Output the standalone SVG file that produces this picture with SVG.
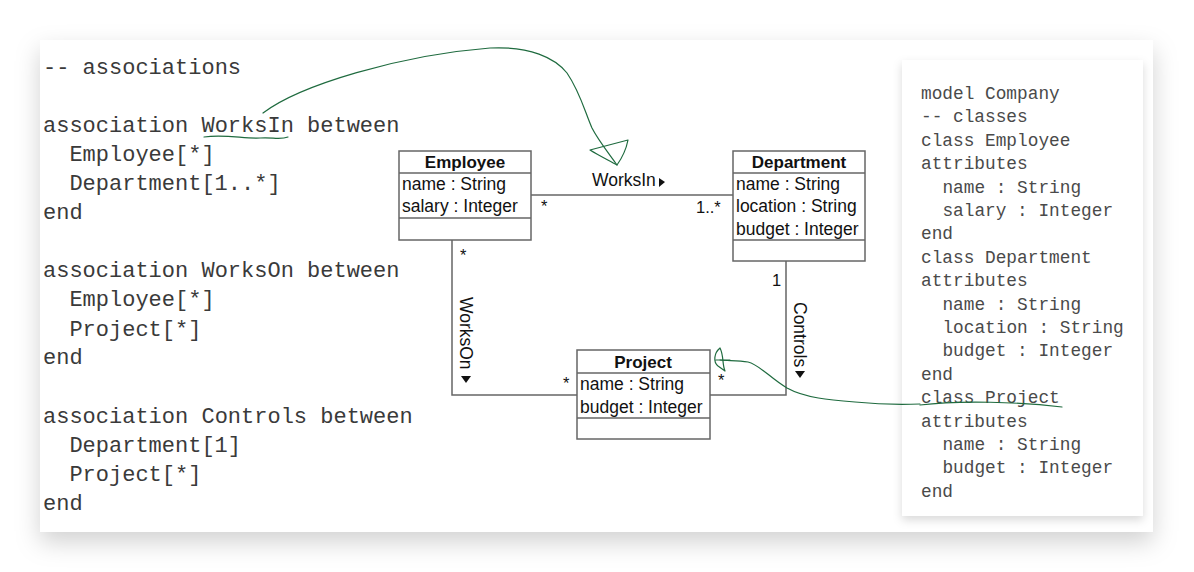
<svg xmlns="http://www.w3.org/2000/svg" width="1194" height="572" viewBox="0 0 1194 572">
<defs>
<filter id="sh" x="-10%" y="-10%" width="120%" height="130%">
<feDropShadow dx="0" dy="10" stdDeviation="12" flood-color="#000" flood-opacity="0.18"/>
</filter>
<filter id="sh2" x="-20%" y="-10%" width="140%" height="120%">
<feDropShadow dx="0" dy="4" stdDeviation="5" flood-color="#000" flood-opacity="0.15"/>
</filter>
<style>
.code{font-family:"Liberation Mono","Courier New",monospace;font-size:22px;fill:#3a3a3a}
.code2{font-family:"Liberation Mono","Courier New",monospace;font-size:17.8px;fill:#4a4a4a}
.box{fill:#fff;stroke:#666;stroke-width:1.5}
.sep{stroke:#666;stroke-width:1.5}
.title{font-family:"Liberation Sans",Arial,sans-serif;font-size:17px;font-weight:bold;fill:#111;text-anchor:middle}
.attr{font-family:"Liberation Sans",Arial,sans-serif;font-size:17.5px;fill:#111}
.lbl{font-family:"Liberation Sans",Arial,sans-serif;font-size:17.5px;fill:#111}
.mult{font-family:"Liberation Sans",Arial,sans-serif;font-size:16.5px;fill:#111}
.edge{fill:none;stroke:#666;stroke-width:1.5}
.pen{fill:none;stroke:#1f6b3f;stroke-width:1.2;stroke-linecap:round;stroke-linejoin:round}
</style>
</defs>
<rect width="1194" height="572" fill="#fff"/>
<rect x="40" y="40" width="1113" height="492" fill="#fff" filter="url(#sh)"/>
<rect x="902" y="60" width="241" height="456" fill="#fff" filter="url(#sh2)"/>

<g id="left-code" class="code">
<text x="43" y="74">-- associations</text>
<text x="43" y="132">association WorksIn between</text>
<text x="69.4" y="161">Employee[*]</text>
<text x="69.4" y="190">Department[1..*]</text>
<text x="43" y="219">end</text>
<text x="43" y="277">association WorksOn between</text>
<text x="69.4" y="306">Employee[*]</text>
<text x="69.4" y="336">Project[*]</text>
<text x="43" y="364">end</text>
<text x="43" y="423">association Controls between</text>
<text x="69.4" y="452">Department[1]</text>
<text x="69.4" y="481">Project[*]</text>
<text x="43" y="510">end</text>
</g>

<g id="right-code" class="code2">
<text x="921" y="99">model Company</text>
<text x="921" y="122.4">-- classes</text>
<text x="921" y="145.8">class Employee</text>
<text x="921" y="169.2">attributes</text>
<text x="942.4" y="192.6">name : String</text>
<text x="942.4" y="216">salary : Integer</text>
<text x="921" y="239.4">end</text>
<text x="921" y="262.8">class Department</text>
<text x="921" y="286.2">attributes</text>
<text x="942.4" y="309.6">name : String</text>
<text x="942.4" y="333">location : String</text>
<text x="942.4" y="356.4">budget : Integer</text>
<text x="921" y="379.8">end</text>
<text x="921" y="403.2">class Project</text>
<text x="921" y="426.6">attributes</text>
<text x="942.4" y="450">name : String</text>
<text x="942.4" y="473.4">budget : Integer</text>
<text x="921" y="496.8">end</text>
</g>

<g id="connectors">
<path class="edge" d="M531 195 H733"/>
<path class="edge" d="M452 240 V395 H577"/>
<path class="edge" d="M786 261 V395 H710"/>
<text class="lbl" x="592" y="186">WorksIn</text>
<polygon points="659,178 665,182 659,187" fill="#111"/>
<text class="mult" x="541" y="212">*</text>
<text class="mult" x="696" y="213">1..*</text>
<g transform="translate(460,297) rotate(90)">
<text class="lbl" x="0" y="0">WorksOn</text>
</g>
<polygon points="461,376 471,376 466,383" fill="#111"/>
<text class="mult" x="460" y="261">*</text>
<text class="mult" x="563" y="389">*</text>
<g transform="translate(794,302) rotate(90)">
<text class="lbl" x="0" y="0">Controls</text>
</g>
<polygon points="795,371 805,371 800,378" fill="#111"/>
<text class="mult" x="772" y="286">1</text>
<text class="mult" x="718" y="386">*</text>
</g>

<g id="Employee">
<rect class="box" x="399" y="151" width="132" height="89"/>
<line class="sep" x1="399" y1="173" x2="531" y2="173"/>
<line class="sep" x1="399" y1="218" x2="531" y2="218"/>
<text class="title" x="465" y="168">Employee</text>
<text class="attr" x="402" y="190">name : String</text>
<text class="attr" x="402" y="212">salary : Integer</text>
</g>

<g id="Department">
<rect class="box" x="733" y="151" width="132" height="110"/>
<line class="sep" x1="733" y1="173" x2="865" y2="173"/>
<line class="sep" x1="733" y1="240" x2="865" y2="240"/>
<text class="title" x="799" y="168">Department</text>
<text class="attr" x="736" y="190">name : String</text>
<text class="attr" x="736" y="212">location : String</text>
<text class="attr" x="736" y="235">budget : Integer</text>
</g>

<g id="Project">
<rect class="box" x="577" y="350" width="133" height="89"/>
<line class="sep" x1="577" y1="373" x2="710" y2="373"/>
<line class="sep" x1="577" y1="418" x2="710" y2="418"/>
<text class="title" x="643" y="368">Project</text>
<text class="attr" x="580" y="390">name : String</text>
<text class="attr" x="580" y="413">budget : Integer</text>
</g>

<g id="annotations">
<path class="pen" d="M204 137 C225 134 245 139 260 138 C272 137 280 140 288 137"/>
<path class="pen" stroke-width="1" d="M263 113 C300 85 400 55 490 48 C530 46 555 58 567 73 C580 92 585 112 592 128 C598 140 610 155 617 165"/>
<path class="pen" d="M590 150 L628 140 C626 150 622 158 617 165 C608 160 598 155 590 150 Z"/>
<path class="pen" d="M920 405 C960 400 1020 402 1062 407"/>
<path class="pen" d="M920 404 C895 405 875 404 855 402 C830 400 805 398 787 388 C770 378 760 365 748 362 C738 360 728 361 720 360"/>
<path class="pen" d="M720 348 C714 353 713 362 718 366 L725 371 C722 364 724 356 720 348 Z M716 360 L730 360"/>
</g>
</svg>
